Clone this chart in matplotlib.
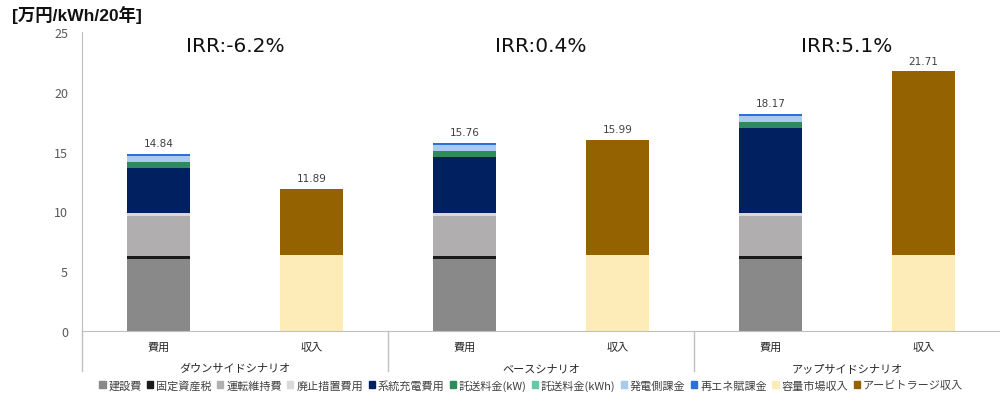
import matplotlib
matplotlib.use("Agg")
import matplotlib.pyplot as plt
from matplotlib.patches import Patch
import numpy as np

plt.rcParams['font.family'] = ['Noto Sans CJK JP', 'DejaVu Sans']

scenarios = ["ダウンサイドシナリオ", "ベースシナリオ", "アップサイドシナリオ"]
sub_labels = ["費用", "収入"]
irr_labels = ["IRR:-6.2%", "IRR:0.4%", "IRR:5.1%"]

cost_names = ["建設費", "固定資産税", "運転維持費", "廃止措置費用", "系統充電費用",
              "託送料金(kW)", "託送料金(kWh)", "発電側課金", "再エネ賦課金"]
cost_colors = ["#898989", "#1a1a1a", "#b0aeae", "#d9d9d9", "#002060",
               "#2e8b5a", "#66c9a6", "#a9cbee", "#2f6fdc"]
# values per scenario (down, base, up)
cost_values = [
    [6.00, 6.00, 6.00],   # 建設費
    [0.25, 0.25, 0.25],   # 固定資産税
    [3.35, 3.35, 3.35],   # 運転維持費
    [0.27, 0.27, 0.27],   # 廃止措置費用
    [3.80, 4.72, 7.13],   # 系統充電費用
    [0.45, 0.45, 0.45],   # 託送料金(kW)
    [0.05, 0.05, 0.05],   # 託送料金(kWh)
    [0.45, 0.45, 0.45],   # 発電側課金
    [0.22, 0.22, 0.22],   # 再エネ賦課金
]
cost_totals = [14.84, 15.76, 18.17]

rev_names = ["容量市場収入", "アービトラージ収入"]
rev_colors = ["#fdebb8", "#946200"]
rev_values = [
    [6.35, 6.35, 6.35],
    [5.54, 9.64, 15.36],
]
rev_totals = [11.89, 15.99, 21.71]

fig = plt.figure(figsize=(10, 4.02), dpi=100)
ax = fig.add_axes([0.082, 0.174, 0.918, 0.744])

width = 0.41
cost_x = np.array([0, 2, 4])
rev_x = np.array([1, 3, 5])

bottom = np.zeros(3)
for name, col, vals in zip(cost_names, cost_colors, cost_values):
    ax.bar(cost_x, vals, width, bottom=bottom, color=col, label=name)
    bottom += np.array(vals)
bottom_r = np.zeros(3)
for name, col, vals in zip(rev_names, rev_colors, rev_values):
    ax.bar(rev_x, vals, width, bottom=bottom_r, color=col, label=name)
    bottom_r += np.array(vals)

for x, t in zip(cost_x, cost_totals):
    ax.text(x, t + 0.45, f"{t:.2f}", ha="center", va="bottom", fontsize=7.5, color="#404040",
            family=['DejaVu Sans'])
for x, t in zip(rev_x, rev_totals):
    ax.text(x, t + 0.45, f"{t:.2f}", ha="center", va="bottom", fontsize=7.5, color="#404040",
            family=['DejaVu Sans'])

for i, lab in enumerate(irr_labels):
    ax.text(2 * i + 0.5, 23.85, lab, ha="center", va="center", fontsize=14.5, color="#111111",
            family=['DejaVu Sans'])

ax.set_xlim(-0.5, 5.5)
ax.set_ylim(0, 25)
ax.set_yticks([0, 5, 10, 15, 20, 25])
ax.tick_params(axis='y', length=0, labelsize=9, colors="#595959", pad=10)
ax.set_xticks([])
for s in ["top", "right"]:
    ax.spines[s].set_visible(False)
ax.spines["left"].set_color("#bfbfbf")
ax.spines["bottom"].set_color("#bfbfbf")

# category axis labels
trans = ax.get_xaxis_transform()
for i in range(6):
    ax.text(i, -0.053, sub_labels[i % 2], transform=trans, ha="center", va="center",
            fontsize=8, color="#262626")
for i, sc in enumerate(scenarios):
    ax.text(2 * i + 0.5, -0.125, sc, transform=trans, ha="center", va="center",
            fontsize=8, color="#262626")
for xb in [-0.5, 1.5, 3.5]:
    ax.plot([xb, xb], [0, -0.135], transform=trans, color="#bfbfbf", lw=1, clip_on=False)

fig.text(0.012, 0.962, "[万円/kWh/20年]", fontsize=12.5, fontweight="bold", ha="left", va="center",
         color="#111111", family=['Liberation Sans', 'Noto Sans CJK JP'])

handles = [Patch(color=c, label=n) for n, c in zip(cost_names + rev_names, cost_colors + rev_colors)]
fig.legend(handles=handles, loc="center", bbox_to_anchor=(0.531, 0.04), ncol=11, frameon=False,
           fontsize=8, handlelength=0.55, handleheight=0.55, handletextpad=0.25, columnspacing=0.5,
           labelcolor="#404040")

fig.savefig("out.png", dpi=100)
